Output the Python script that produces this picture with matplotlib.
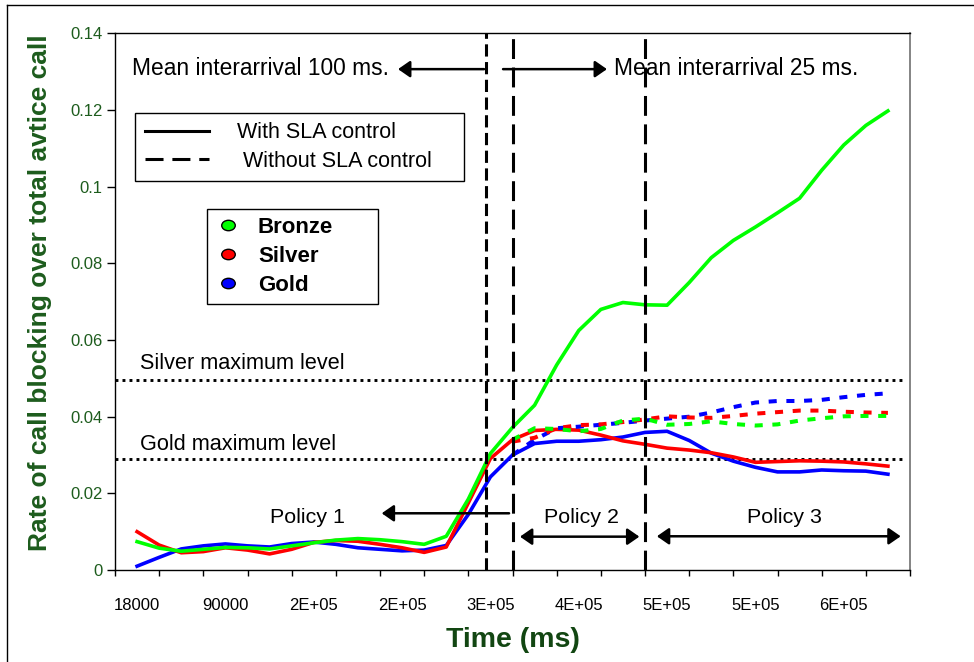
import matplotlib
matplotlib.use("Agg")
import matplotlib.pyplot as plt
from matplotlib import font_manager
from matplotlib.lines import Line2D
from matplotlib.markers import MarkerStyle
from matplotlib.transforms import Affine2D
from matplotlib.ticker import FixedLocator, FuncFormatter, NullFormatter


def first_font(names):
    for name in names:
        try:
            font_manager.findfont(font_manager.FontProperties(family=name),
                                  fallback_to_default=False)
            return name
        except ValueError:
            continue
    return None


SANS = first_font(["Liberation Sans", "Arial"]) or "DejaVu Sans"
NARROW = first_font(["Liberation Sans Narrow", "Arial Narrow"])
# narrow font if there is one, else the normal one a bit smaller
NFONT = NARROW or SANS
NSCALE = 1.0 if NARROW else 0.82

plt.rcParams["font.family"] = [SANS, "DejaVu Sans"]

# Data (time in ms, rate of call blocking)
time_ms = [18000, 36000, 54000, 72000, 90000, 108000, 126000, 144000, 162000,
           180000, 198000, 216000, 234000, 252000, 270000, 288000, 306000,
           324000, 342000, 360000, 378000, 396000, 414000, 432000, 450000,
           468000, 486000, 504000, 522000, 540000, 558000, 576000, 594000,
           612000, 630000]
bronze_sla = [0.0074, 0.0057, 0.0049, 0.0054, 0.0059, 0.0058, 0.0055, 0.0063,
              0.0071, 0.0078, 0.0082, 0.0079, 0.0074, 0.0067, 0.0088, 0.0185,
              0.0304, 0.0372, 0.0430, 0.0535, 0.0625, 0.0680, 0.0698, 0.0692,
              0.0691, 0.0750, 0.0815, 0.0860, 0.0895, 0.0932, 0.0970, 0.1043,
              0.1109, 0.1160, 0.1198]
silver_sla = [0.0100, 0.0065, 0.0045, 0.0048, 0.0058, 0.0052, 0.0042, 0.0054,
              0.0072, 0.0077, 0.0075, 0.0067, 0.0058, 0.0046, 0.0060, 0.0175,
              0.0291, 0.0340, 0.0364, 0.0367, 0.0365, 0.0352, 0.0337, 0.0328,
              0.0318, 0.0313, 0.0306, 0.0295, 0.0281, 0.0283, 0.0285, 0.0284,
              0.0282, 0.0277, 0.0271]
gold_sla = [0.0010, 0.0033, 0.0055, 0.0063, 0.0068, 0.0063, 0.0060, 0.0069,
            0.0073, 0.0067, 0.0058, 0.0054, 0.0050, 0.0052, 0.0064, 0.0145,
            0.0243, 0.0300, 0.0330, 0.0336, 0.0336, 0.0340, 0.0347, 0.0359,
            0.0362, 0.0338, 0.0305, 0.0284, 0.0268, 0.0256, 0.0256, 0.0261,
            0.0259, 0.0258, 0.0250]

time_nosla = [324000, 342000, 360000, 378000, 396000, 414000, 432000, 450000,
              468000, 486000, 504000, 522000, 540000, 558000, 576000, 594000,
              612000, 630000]
bronze_nosla = [0.0340, 0.0370, 0.0368, 0.0362, 0.0368, 0.0390, 0.0395, 0.0379,
                0.0381, 0.0388, 0.0381, 0.0377, 0.0380, 0.0390, 0.0396, 0.0401,
                0.0402, 0.0402]
silver_nosla = [0.0335, 0.0345, 0.0370, 0.0378, 0.0380, 0.0386, 0.0393, 0.0401,
                0.0398, 0.0397, 0.0402, 0.0408, 0.0412, 0.0416, 0.0416, 0.0413,
                0.0411, 0.0410]
gold_nosla = [0.0300, 0.0340, 0.0370, 0.0374, 0.0379, 0.0384, 0.0390, 0.0395,
              0.0400, 0.0411, 0.0425, 0.0437, 0.0441, 0.0441, 0.0444, 0.0451,
              0.0457, 0.0461]

silver_max = 0.0497
gold_max = 0.029
phase_times = [302000, 324000, 432000]

x_edges = [0, 36000, 72000, 108000, 144000, 180000, 216000, 252000, 288000,
           324000, 360000, 396000, 432000, 468000, 504000, 540000, 576000,
           612000, 648000]
x_label_pos = [18000, 90000, 162000, 234000, 306000, 378000, 450000, 522000, 594000]
x_tick_labels = ["18000", "90000", "2E+05", "2E+05", "3E+05", "4E+05",
                 "5E+05", "5E+05", "6E+05"]
y_ticks = [0, 0.02, 0.04, 0.06, 0.08, 0.1, 0.12, 0.14]

GREEN, RED, BLUE = "#00ff00", "#ff0000", "#0000ff"
DARK_GREEN = "#1d5c1d"

fig = plt.figure(figsize=(9.74, 6.62), dpi=100)
W, H = 974, 662
ax = fig.add_axes([115 / W, (H - 570) / H, 795 / W, (570 - 33.5) / H])

# with SLA control
ax.plot(time_ms, gold_sla, color=BLUE, lw=2.6, solid_joinstyle="round", zorder=3)
ax.plot(time_ms, silver_sla, color=RED, lw=2.6, solid_joinstyle="round", zorder=3)
ax.plot(time_ms, bronze_sla, color=GREEN, lw=2.6, solid_joinstyle="round", zorder=3)

# without SLA control
dash = (0, (2.0, 2.4))
ax.plot(time_nosla, gold_nosla, color=BLUE, lw=2.9, ls=dash, zorder=4)
ax.plot(time_nosla, silver_nosla, color=RED, lw=2.9, ls=dash, zorder=4)
ax.plot(time_nosla, bronze_nosla, color=GREEN, lw=2.9, ls=dash, zorder=4)

# maximum levels
ax.axhline(silver_max, xmax=0.99, color="black", lw=2.1, ls=(0, (1, 1.4)), zorder=2)
ax.axhline(gold_max, xmax=0.99, color="black", lw=2.1, ls=(0, (1, 1.4)), zorder=2)

# phase boundaries
ax.axvline(phase_times[0], color="black", lw=2.2, ls=(0, (4, 1.8)), zorder=5)
ax.axvline(phase_times[1], color="black", lw=2.2, ls=(0, (6.5, 2.8)), zorder=5)
ax.axvline(phase_times[2], color="black", lw=2.2, ls=(0, (6.5, 2.8)), zorder=5)

ax.set_xlim(0, 648000)
ax.set_ylim(0, 0.14)

ax.xaxis.set_major_locator(FixedLocator(x_edges))
ax.xaxis.set_major_formatter(NullFormatter())
ax.xaxis.set_minor_locator(FixedLocator(x_label_pos))
ax.xaxis.set_minor_formatter(FuncFormatter(lambda v, p: x_tick_labels[x_label_pos.index(v)]
                                           if v in x_label_pos else ""))
ax.tick_params(axis="x", which="major", direction="out", length=4, width=1)
ax.tick_params(axis="x", which="minor", length=0, pad=20, labelsize=12)

ax.yaxis.set_major_locator(FixedLocator(y_ticks))
ax.yaxis.set_major_formatter(FuncFormatter(lambda v, p: "%g" % v))
ax.tick_params(axis="y", direction="out", length=6, width=1, pad=3,
               labelsize=12, labelcolor=DARK_GREEN)

for side in ["left", "bottom", "top"]:
    ax.spines[side].set_color("black")
    ax.spines[side].set_linewidth(1.0)
ax.spines["right"].set_color("#707070")
ax.spines["right"].set_linewidth(1.2)

ax.set_xlabel("Time (ms)", fontsize=20.5, fontweight="bold", color="#124612")
ax.xaxis.label.set_va("baseline")
ax.xaxis.set_label_coords(0.5, (570 - 647) / 536.5)
ax.set_ylabel("Rate of call blocking over total avtice call", fontsize=19,
              fontweight="bold", color=DARK_GREEN)
ax.yaxis.label.set_va("center")
ax.yaxis.set_label_coords((40 - 115) / 795, 0.517)

# annotations
def note(txt, x, y, size):
    ax.text(x, y, txt, fontsize=size * NSCALE, family=[NFONT, "DejaVu Sans"],
            ha="left", va="baseline", zorder=6)


def arrow(x0, x1, y, both=False):
    style = "<|-|>" if both else "-|>"
    ax.annotate("", xy=(x1, y), xytext=(x0, y),
                arrowprops=dict(arrowstyle=style + ",head_length=0.36,head_width=0.25",
                                color="black", lw=1.8, shrinkA=0, shrinkB=0,
                                mutation_scale=20), zorder=6)


note("Mean interarrival 100 ms.", 13900, 0.1293, 20)
note("Mean interarrival 25 ms.", 406700, 0.1293, 20)
arrow(300800, 230700, 0.1307)
arrow(316300, 401000, 0.1307)
note("Silver maximum level", 20400, 0.0524, 19)
note("Gold maximum level", 20400, 0.0313, 19)
note("Policy 1", 126300, 0.0123, 18.8)
note("Policy 2", 349700, 0.0123, 18.8)
note("Policy 3", 514900, 0.0123, 18.8)
arrow(321200, 217400, 0.0148)
arrow(330100, 427400, 0.0087, both=True)
arrow(441700, 640400, 0.0088, both=True)

# legends
style_handles = [Line2D([], [], color="black", lw=2.2),
                 Line2D([], [], color="black", lw=2.2, ls=(0, (5.9, 2.9)))]
leg1 = ax.legend(style_handles, ["With SLA control", " Without SLA control"],
                 loc="upper left", bbox_to_anchor=(135 / W, 1 - 112.7 / H, 329 / W, 0),
                 bbox_transform=fig.transFigure, mode="expand", borderaxespad=0,
                 fontsize=15.5, handlelength=3.0, handletextpad=1.3,
                 borderpad=0.45, labelspacing=0.34, fancybox=False,
                 edgecolor="black", framealpha=1)
leg1.get_frame().set_linewidth(1.0)
ax.add_artist(leg1)

ellipse = MarkerStyle("o", transform=Affine2D().scale(1.3, 1.0))
class_handles = [Line2D([], [], ls="none", marker=ellipse, markersize=7.5,
                        markerfacecolor=c, markeredgecolor="black", markeredgewidth=1.0)
                 for c in (GREEN, RED, BLUE)]
leg2 = ax.legend(class_handles, ["Bronze", "Silver", "Gold"], loc="upper left",
                 bbox_to_anchor=(207.3 / W, 1 - 209.3 / H, 171 / W, 0),
                 bbox_transform=fig.transFigure, mode="expand", borderaxespad=0,
                 prop={"size": 16, "weight": "bold"}, handlelength=1.13,
                 handletextpad=0.8, borderpad=0.35, labelspacing=0.36,
                 numpoints=1, fancybox=False, edgecolor="black", framealpha=1)
leg2.get_frame().set_linewidth(1.0)

# outer frame of the picture
fig.add_artist(Line2D([7 / W, 1], [1 - 5 / H, 1 - 5 / H], color="black", lw=1.0))
fig.add_artist(Line2D([7 / W, 7 / W], [0, 1 - 5 / H], color="black", lw=1.0))

fig.savefig("out.png", dpi=100)
